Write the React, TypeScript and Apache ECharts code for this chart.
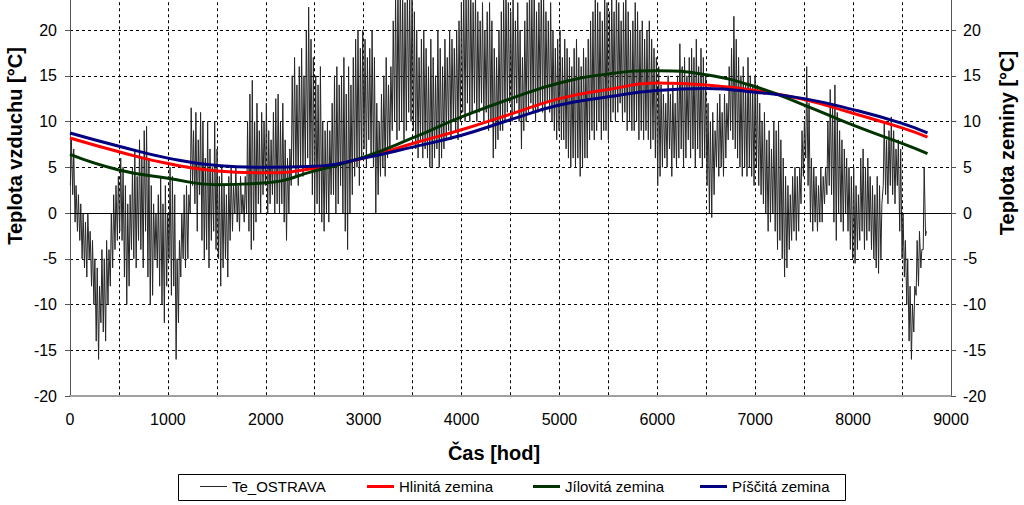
import React, { useEffect, useRef } from "react";
import * as echarts from "echarts";

// Daily extremes of the hourly outdoor temperature (Te_OSTRAVA)
const dayMax = [
  8, 7, 3, 2, 1, 0, -1, 0, -2, -3,
  -5, -6, -8, -4, -5, -3, -4, 0, 2, 3,
  4, 6, 5, 3, 1, 2, 5, 7, 4, 8,
  6, 9, 9.5, 6, 3, 1, 0, 2, 4, 1,
  3, 0, 5, 4, 2, -5, -3, 0, 2, 3,
  2, 11.5, 9, 11, 8, 11, 10, 6, 10, 7,
  5, 10, 7, 4, 5, 3, 2, 4, 5, 3,
  5, 3, 4, 2, 4, 10, 13, 14.5, 10, 12,
  9, 11, 10, 12, 9, 8, 11, 12.5, 13, 10,
  12, 8, 6, 7, 15, 17, 14, 16, 18, 15,
  20, 22.5, 19, 17, 15, 14, 16, 10, 9, 10,
  9, 12, 15, 16, 14, 15, 17, 13, 16, 14,
  17, 19, 20, 18, 20, 19, 17, 18, 20, 17,
  12, 10, 13, 15, 17, 14, 16, 21, 24, 25,
  26, 24, 23, 25, 24, 26, 22, 20, 17, 19,
  20, 18, 16, 19, 17, 15, 20, 18, 16, 19,
  17, 20, 19, 18, 20, 21, 23, 25, 24, 26,
  25, 23, 24, 22, 21, 23, 20, 22, 23, 21,
  18, 17, 20, 22, 24, 25, 23, 22, 24, 21,
  23, 20, 17, 21, 23, 25, 24, 26, 22, 23,
  25, 24, 22, 21, 23, 20, 18, 19, 20, 17,
  19, 18, 17, 16, 18, 19, 17, 16, 18, 17,
  19, 21, 22, 24, 23, 22, 21, 24, 23, 22,
  24, 22, 25, 23, 21, 23, 24, 22, 20, 21,
  23, 22, 20, 21, 19, 20, 21, 19, 18, 17,
  16, 14, 13, 12, 15, 13, 14, 12, 15, 18.5,
  16, 17, 15, 17, 18, 17, 19, 16, 18, 17,
  15, 12, 10, 11, 9, 12, 13, 11, 13, 12,
  16, 18, 21.5, 19, 17, 15, 16, 14, 17, 15,
  14, 15, 14, 12, 10, 11, 8, 9, 7, 10,
  9, 10, 8, 6, 4, 3, 2, 4, 5, 4,
  5, 9, 10, 16, 12, 6, 5, 4, 3, 5,
  4, 5, 10, 13.5, 12, 14, 11, 9, 8, 7,
  6, 5, 4, 5, 3, 2, 6, 7, 5, 6,
  4, 3, 2, 4, 3, 1, 10, 8, 9, 10.5,
  9, 7, 8, 7, 0, -3, -5, -8, -10, -8,
  -3, -2, -4, 5, -2,
];
const dayMin = [
  3, 2, -1, -2, -3, -5, -6, -7, -5, -8,
  -10, -14, -16, -12, -13, -14, -10, -8, -6, -4,
  -3, -2, -3, -7, -10, -8, -4, -5, -6, -3,
  -4, -6, -2, -7, -10, -9, -5, -6, -8, -10,
  -12, -8, -5, -9, -8, -16, -12, -7, -5, -6,
  -5, 0, 3, 1, -2, 2, -3, -5, -4, -6,
  -3, -2, -4, -5, -8, -6, -5, -7, -3, -2,
  0, -1, -2, 0, -1, 0, -2, -4, -3, -1,
  1, 0, 2, 3, 0, 1, 2, 0, 1, 0,
  1, -1, -3, 0, 3, 5, 4, 3, 5, 4,
  5, 6, 5, 2, 0, 1, 0, -1, -2, 0,
  -1, 2, 2, 0, 1, 3, 0, -2, -4, 0,
  2, 4, 5, 3, 6, 7, 5, 8, 6, 5,
  0, 2, 4, 5, 4, 6, 7, 9, 10, 8,
  9, 10, 8, 9, 11, 10, 9, 7, 6, 8,
  6, 7, 6, 5, 5, 6, 7, 5, 6, 7,
  8, 9, 8, 10, 9, 8, 10, 11, 10, 12,
  10, 11, 12, 10, 11, 12, 10, 11, 9, 10,
  6, 7, 8, 9, 9, 10, 11, 12, 10, 11,
  12, 10, 7, 9, 10, 11, 12, 11, 10, 11,
  12, 11, 10, 12, 11, 10, 9, 8, 9, 8,
  8, 7, 6, 5, 6, 5, 6, 4, 5, 6,
  6, 8, 9, 8, 9, 10, 8, 9, 9, 8,
  10, 11, 10, 11, 12, 10, 11, 9, 10, 9,
  9, 10, 8, 9, 8, 9, 8, 7, 8, 6,
  3, 4, 5, 6, 5, 7, 4, 6, 5, 6,
  7, 5, 6, 8, 6, 7, 5, 7, 6, 5,
  6, 3, 0, -0.5, 2, 5, 4, 5, 4, 6,
  8, 9, 8, 7, 6, 5, 4, 5, 4, 5,
  4, 3, 5, 3, 2, 1, 0, -2, -1, 0,
  -2, -4, -3, -5, -7, -6, -4, -3, -2, -3,
  -2, 1, 4, 6, 3, -1, -2, -1, -2, -1,
  -1, 1, 2, 3, 2, -1, -3, 0, -1, -2,
  0, -2, -4, -5, -5.5, -4, -3, -2, -4, -3,
  -2, -4, -5, -6, -6.6, -5, 3, 2, 1, 3,
  2, 1, 3, -2, -5, -7, -10, -14, -16, -13,
  -9, -8, -6, -4, -2.5,
];

// Soil temperatures (hours -> °C)
const soilHours = [0, 500, 1000, 1500, 2000, 2500, 3000, 3500, 4000, 4500, 5000, 5500, 6000, 6500, 7000, 7500, 8000, 8500, 8760];
const hlinita = [8.2, 6.7, 5.4, 4.6, 4.4, 4.9, 6.0, 7.6, 9.1, 10.8, 12.5, 13.5, 14.2, 14.0, 13.4, 12.4, 10.9, 9.3, 8.3];
const jilovita = [6.4, 4.7, 3.8, 3.1, 3.3, 4.6, 6.1, 8.2, 10.5, 12.5, 14.2, 15.2, 15.55, 15.1, 13.8, 11.8, 9.6, 7.6, 6.5];
const piscita = [8.75, 7.3, 6.0, 5.2, 5.0, 5.1, 6.0, 7.2, 8.5, 10.2, 11.8, 12.7, 13.4, 13.6, 13.2, 12.5, 11.3, 9.8, 8.75];

const seriesNames = ["Te_OSTRAVA", "Hlinitá zemina", "Jílovitá zemina", "Píščitá zemina"];
const seriesColors = ["#262626", "#ff0000", "#003300", "#000080"];

const FONT = "'Liberation Sans', Arial, sans-serif";

export default function App() {
  const ref = useRef<HTMLDivElement>(null);
  useEffect(() => {
    if (!ref.current) return;
    const chart = echarts.init(ref.current, null, { renderer: "svg" });

    const teData: number[][] = [];
    for (let d = 0; d < dayMax.length; d++) {
      teData.push([d * 24 + 4, dayMin[d]]);
      teData.push([d * 24 + 14, dayMax[d]]);
    }
    const pair = (vals: number[]) => soilHours.map((h, i) => [h, vals[i]]);

    const gridLine = { color: "#000", type: [3, 3], width: 1 };
    const legendLefts = [200, 367, 533, 700];

    chart.setOption({
      animation: false,
      backgroundColor: "#fff",
      grid: {
        left: 70,
        right: 73,
        top: -15.75,
        bottom: 109,
        containLabel: false,
        outerBoundsMode: "none",
      },
      xAxis: {
        type: "value",
        min: 0,
        max: 9000,
        interval: 500,
        axisLine: { onZero: false, lineStyle: { color: "#a0a0a0", width: 2 } },
        axisTick: { show: false },
        axisLabel: {
          fontSize: 16,
          fontFamily: FONT,
          color: "#000",
          margin: 15,
          formatter: (v: number) => (v % 1000 === 0 ? String(v) : ""),
        },
        splitLine: { show: true, lineStyle: gridLine },
      },
      yAxis: [
        {
          type: "value",
          min: -20,
          max: 25,
          interval: 5,
          position: "left",
          axisLine: { show: true, onZero: false, lineStyle: { color: "#555", width: 1 } },
          axisTick: { show: true, length: 5, lineStyle: { color: "#555" } },
          axisLabel: { fontSize: 16, fontFamily: FONT, color: "#000", margin: 13, showMaxLabel: false },
          splitLine: { show: true, lineStyle: gridLine },
        },
        {
          type: "value",
          min: -20,
          max: 25,
          interval: 5,
          position: "right",
          axisLine: { show: true, onZero: false, lineStyle: { color: "#555", width: 1 } },
          axisTick: { show: true, length: 5, lineStyle: { color: "#555" } },
          axisLabel: { fontSize: 16, fontFamily: FONT, color: "#000", margin: 12, showMaxLabel: false },
          splitLine: { show: false },
        },
      ],
      legend: seriesNames.map((name, i) => ({
        data: [name],
        left: legendLefts[i],
        top: 479,
        padding: 0,
        icon: "rect",
        itemWidth: 27,
        itemHeight: i === 0 ? 1 : 3,
        selectedMode: false,
        z: 5,
        textStyle: {
          fontSize: 15,
          fontFamily: "'Liberation Sans Narrow', 'Liberation Sans', Arial, sans-serif",
          color: "#000",
        },
      })),
      graphic: [
        {
          type: "rect",
          silent: true,
          z: 0,
          shape: { x: 178.5, y: 474.5, width: 667, height: 26 },
          style: { fill: "#fff", stroke: "#000", lineWidth: 1 },
        },
        {
          type: "text",
          x: 15,
          y: 146,
          rotation: Math.PI / 2,
          style: {
            text: "Teplota vzduchu [°C]",
            fontSize: 20,
            fontWeight: "bold",
            fontFamily: FONT,
            fill: "#000",
            align: "center",
            verticalAlign: "middle",
            textAlign: "center",
            textVerticalAlign: "middle",
          },
        },
        {
          type: "text",
          x: 1007,
          y: 143,
          rotation: Math.PI / 2,
          style: {
            text: "Teplota zeminy [°C]",
            fontSize: 20,
            fontWeight: "bold",
            fontFamily: FONT,
            fill: "#000",
            align: "center",
            verticalAlign: "middle",
            textAlign: "center",
            textVerticalAlign: "middle",
          },
        },
        {
          type: "text",
          x: 494,
          y: 453,
          style: {
            text: "Čas [hod]",
            fontSize: 20,
            fontWeight: "bold",
            fontFamily: FONT,
            fill: "#000",
            align: "center",
            verticalAlign: "middle",
            textAlign: "center",
            textVerticalAlign: "middle",
          },
        },
      ],
      series: [
        {
          name: seriesNames[0],
          type: "line",
          data: teData,
          symbol: "none",
          showSymbol: false,
          lineStyle: { width: 1, color: seriesColors[0] },
          itemStyle: { color: seriesColors[0] },
          z: 2,
          markLine: {
            silent: true,
            symbol: ["none", "none"],
            label: { show: false },
            lineStyle: { color: "#000", type: "solid", width: 1 },
            data: [{ yAxis: 0 }],
            animation: false,
          },
        },
        ...[hlinita, jilovita, piscita].map((vals, k) => ({
          name: seriesNames[k + 1],
          type: "line",
          data: pair(vals),
          smooth: true,
          symbol: "none",
          showSymbol: false,
          lineStyle: { width: 3, color: seriesColors[k + 1] },
          itemStyle: { color: seriesColors[k + 1] },
          z: 3,
        })),
      ],
    });
    return () => chart.dispose();
  }, []);

  return (
    <div
      ref={ref}
      style={{ position: "fixed", left: 0, top: 0, width: 1024, height: 505, background: "#fff" }}
    />
  );
}
